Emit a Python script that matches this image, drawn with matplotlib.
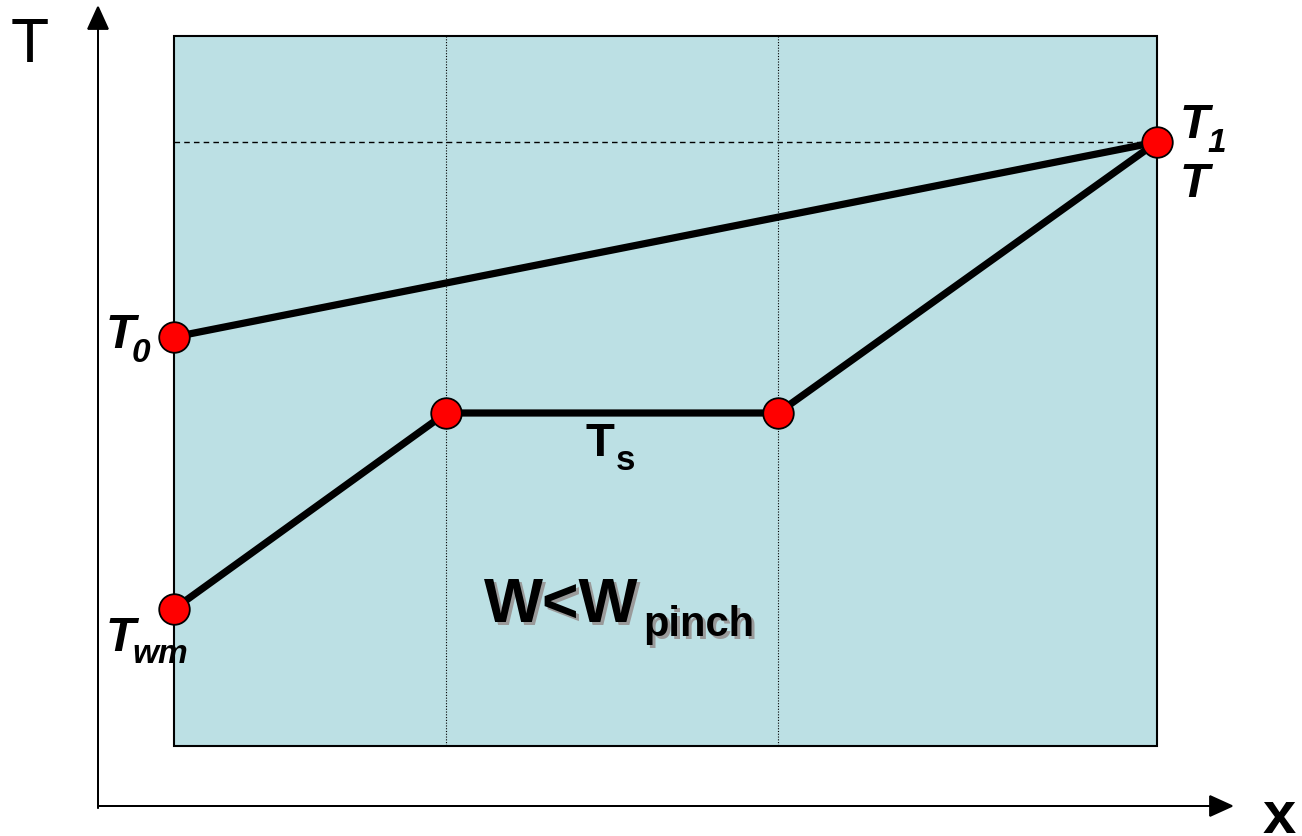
import matplotlib.pyplot as plt
from matplotlib.patches import Rectangle

plt.rcParams['font.family'] = ['Liberation Sans', 'DejaVu Sans']

# chart geometry (drawing units = pixels, y downward)
box_x = [174, 1157]
box_y = [36, 746]
upper_x = [174, 1157]          # T0 -> T1
upper_y = [337, 142]
lower_x = [174, 446, 778, 1157]  # Twm -> Ts plateau -> T1
lower_y = [609, 413, 413, 142]
pinch_x = [446, 778]
t1_level = 142

fig = plt.figure(figsize=(13.02, 8.36), dpi=100)
ax = fig.add_axes([0, 0, 1, 1])
ax.set_xlim(0, 1302)
ax.set_ylim(836, 0)
ax.axis('off')

ax.add_patch(Rectangle((box_x[0], box_y[0]), box_x[1] - box_x[0], box_y[1] - box_y[0],
                       facecolor='#bce0e4', edgecolor='black', lw=1.5, zorder=1))

for px in pinch_x:
    ax.plot([px, px], box_y, color='black', lw=0.8, linestyle=(0, (1, 1.5)), zorder=2)
ax.plot(box_x, [t1_level, t1_level], color='black', lw=1, linestyle=(0, (4, 3)), zorder=2)

ax.plot(upper_x, upper_y, color='black', lw=5.2, solid_capstyle='butt', zorder=3)
ax.plot(lower_x, lower_y, color='black', lw=5.2, solid_capstyle='butt', zorder=3)

pts_x = [174, 174, 446, 778, 1157]
pts_y = [337, 609, 413, 413, 142]
ax.plot(pts_x, pts_y, 'o', color='red', markersize=22, markeredgecolor='black',
        markeredgewidth=1.3, zorder=4)

# axes arrows
ax.arrow(98, 808, 0, -801, head_width=20, head_length=22, length_includes_head=True,
         fc='black', ec='black', lw=1.3)
ax.arrow(98, 806, 1134, 0, head_width=20, head_length=22, length_includes_head=True,
         fc='black', ec='black', lw=1.3)

ax.text(11, 62, 'T', fontsize=45, ha='left', va='baseline')
ax.text(1263, 833, 'x', fontsize=43, fontweight='bold', ha='left', va='baseline')

bi = dict(fontweight='bold', fontstyle='italic', ha='left', va='baseline')
ax.text(1180, 138, 'T', fontsize=35, **bi)
ax.text(1207, 152, '1', fontsize=24, **bi)
ax.text(1180, 197, 'T', fontsize=35, **bi)
ax.text(106, 348, 'T', fontsize=35, **bi)
ax.text(132, 362, '0', fontsize=24, **bi)
ax.text(106, 651, 'T', fontsize=35, **bi)
ax.text(132, 663, 'wm', fontsize=24, **bi)

ax.text(586, 456, 'T', fontsize=34, fontweight='bold', ha='left', va='baseline')
ax.text(616, 470, 's', fontsize=25, fontweight='bold', ha='left', va='baseline')

for dx, col, z in [(3, '#9a9a9a', 5), (0, 'black', 6)]:
    ax.text(484 + dx, 622 + dx, 'W<W', fontsize=45, fontweight='bold', color=col,
            ha='left', va='baseline', zorder=z)
    ax.text(643 + dx, 636 + dx, 'pinch', fontsize=30, fontweight='bold', color=col,
            ha='left', va='baseline', zorder=z)

fig.savefig('out.png', dpi=100)
